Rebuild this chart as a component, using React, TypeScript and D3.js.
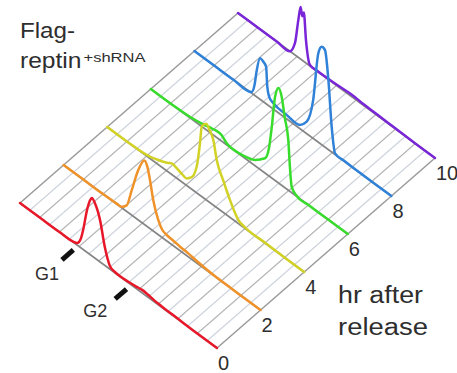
import React from 'react';
import * as d3 from 'd3';

// time points (hr after release)
const hours = [0, 2, 4, 6, 8, 10];
const traceColors = ['#e8182a', '#f0922a', '#d2d226', '#38dc2c', '#2f82d8', '#7a26d8'];

// [DNA content channel (0-100), cell count]
const trace0: [number, number][] = [
  [0, 0], [10, 0], [20, 0], [27, 0.5], [29, 2], [31, 10], [32, 19], [34, 42], [35.5, 54], [36.5, 58],
  [38, 55], [40.6, 42], [43.1, 18], [45.7, 3], [48, 1], [51, 0.5], [55, 1], [59, 2], [62, 3],
  [65, 2.5], [68, 1.5], [72, 1], [80, 0.5], [90, 0], [100, 0],
];
const trace2: [number, number][] = [
  [0, 0], [10, 0], [20, 0], [27, 0.5], [29.5, 1], [32, 6], [34.6, 25], [37.9, 50], [41, 64], [42.5, 60],
  [43.9, 48], [45.5, 31], [48, 15], [50, 8], [52.3, 6], [56, 5], [59, 4], [63, 3.5], [67.6, 2],
  [74.5, 0.5], [86, 0], [100, 0],
];
const trace4: [number, number][] = [
  [0, 0], [10, 0], [21.7, 1.8], [25, 4], [28.5, 6.6], [31, 9], [32.7, 11], [35.3, 10], [38, 8],
  [40.4, 7.2], [42.9, 12], [45.4, 26], [47.1, 52], [48, 70], [50.2, 76], [52, 72], [53.9, 65],
  [55.6, 47.6], [58.9, 32], [62.3, 17.4], [66.6, 3.5], [70, 1], [80, 0.5], [90, 0], [100, 0],
];
const trace6: [number, number][] = [
  [0, 0], [10, 0], [20, 1], [26.6, 3.3], [30, 5], [32.6, 6.3], [36, 6], [38.5, 1.5], [43.6, 0.5],
  [48, 2], [53, 5.8], [58, 14.8], [60, 28], [61.4, 51], [63.1, 84], [64.8, 95], [66.5, 88], [68, 70],
  [69.8, 50], [70.6, 25], [71.5, 6], [74, 0.5], [80, 0], [90, 0], [100, 0],
];
const trace8: [number, number][] = [
  [0, 0], [10, 0], [20, 0], [29, 1], [30.5, 10], [31.6, 26], [33.3, 41], [35, 40], [36.4, 37], [37, 18],
  [38, 9], [40, 6], [46.8, 4], [53.6, 3.8], [57, 12], [60.3, 38.5], [62.9, 89], [64.6, 98], [66.3, 97],
  [68, 70], [69.7, 25], [71.4, 1.2], [76, 0.5], [85, 0], [100, 0],
];
const trace10: [number, number][] = [
  [0, 0], [10, 0], [20, 0], [26.4, 0], [28.9, 11.7], [30.6, 37], [31.8, 52], [32.6, 44], [33.4, 49],
  [34.5, 23], [36.5, 1], [40, 0.5], [50, 1], [58.6, 2], [62, 1.5], [70, 1], [80, 0.5], [90, 0], [100, 0],
];
const traces = [trace0, trace2, trace4, trace6, trace8, trace10];

// G1 / G2 markers: channel position and label
const markerLabels = ['G1', 'G2'];
const markerChannels = [29.5, 56.5];

const gridChannels = d3.range(0, 101, 5);

export default function App() {
  const W = 457;
  const H = 373;
  const origin = [20, 203];
  const U = [197, 145]; // full DNA axis vector
  const D = [218, -190]; // full time axis vector
  const xScale = d3.scaleLinear().domain([0, 100]).range([0, 1]);
  const zScale = d3.scaleLinear().domain([0, 10]).range([0, 1]);
  const hScale = d3.scaleLinear().domain([0, 100]).range([0, 100]);

  const proj = (c: number, hr: number, n: number): [number, number] => {
    const a = xScale(c);
    const b = zScale(hr);
    return [origin[0] + a * U[0] + b * D[0], origin[1] + a * U[1] + b * D[1] - hScale(n)];
  };

  const line = d3.line<[number, number]>().curve(d3.curveMonotoneX);

  const seg = (p: [number, number], q: [number, number]) => `M${p[0]},${p[1]}L${q[0]},${q[1]}`;

  const font = "'Liberation Sans', Arial, sans-serif";
  const txt = '#2e2e2e';
  const labelDx = [-27, -32];
  const labelDy = [20, 18];

  return (
    <div style={{ position: 'absolute', left: 0, top: 0 }}>
      <svg width={W} height={H} style={{ display: 'block', background: '#fff' }}>
        {/* floor hatch lines */}
        {gridChannels.map((c, i) => (
          <path
            key={'g' + c}
            d={seg(proj(c, 0, 0), proj(c, 10, 0))}
            stroke={i === 0 || i === gridChannels.length - 1 ? '#9a9a9a' : i % 2 === 0 ? '#b4b4b4' : '#cdd3dc'}
            strokeWidth={i === 0 || i === gridChannels.length - 1 ? 1.5 : 1.1}
            fill="none"
          />
        ))}
        {/* baselines */}
        {hours.map((hr) => (
          <path key={'b' + hr} d={seg(proj(0, hr, 0), proj(100, hr, 0))} stroke="#858585" strokeWidth={1.6} fill="none" />
        ))}
        {/* traces, back to front */}
        {hours
          .map((hr, i) => i)
          .reverse()
          .map((i) => (
            <path
              key={'t' + i}
              d={line(traces[i].map(([c, n]) => proj(c, hours[i], n))) || ''}
              stroke={traceColors[i]}
              strokeWidth={2.5}
              strokeLinejoin="round"
              strokeLinecap="round"
              fill="none"
            />
          ))}
        {/* time labels */}
        {hours.map((hr) => {
          const p = proj(100, hr, 0);
          return (
            <text key={'l' + hr} x={p[0] + 1} y={p[1] + 22} fontFamily={font} fontSize={20} fill={txt}>
              {hr}
            </text>
          );
        })}
        {/* G1/G2 markers */}
        {markerChannels.map((c, i) => {
          const a = proj(c, -0.74, 0);
          const b = proj(c, -0.22, 0);
          return (
            <g key={'m' + i}>
              <path d={seg(a, b)} stroke="#111" strokeWidth={5} />
              <text
                x={a[0] + labelDx[i]}
                y={a[1] + labelDy[i]}
                fontFamily={font}
                fontSize={19}
                fill={txt}
                textLength={24}
                lengthAdjust="spacingAndGlyphs"
              >
                {markerLabels[i]}
              </text>
            </g>
          );
        })}
        {/* title */}
        <text x={20} y={37.5} fontFamily={font} fontSize={22} fill={txt} textLength={55} lengthAdjust="spacingAndGlyphs">
          Flag-
        </text>
        <text x={20} y={68} fontFamily={font} fontSize={22} fill={txt} textLength={61.5} lengthAdjust="spacingAndGlyphs">
          reptin
        </text>
        <text x={83.5} y={62} fontFamily={font} fontSize={13} fill={txt} textLength={62} lengthAdjust="spacingAndGlyphs">
          +shRNA
        </text>
        {/* axis title */}
        <text x={338} y={303} fontFamily={font} fontSize={23} fill={txt} textLength={85} lengthAdjust="spacingAndGlyphs">
          hr after
        </text>
        <text x={338} y={335} fontFamily={font} fontSize={23} fill={txt} textLength={90} lengthAdjust="spacingAndGlyphs">
          release
        </text>
      </svg>
    </div>
  );
}
